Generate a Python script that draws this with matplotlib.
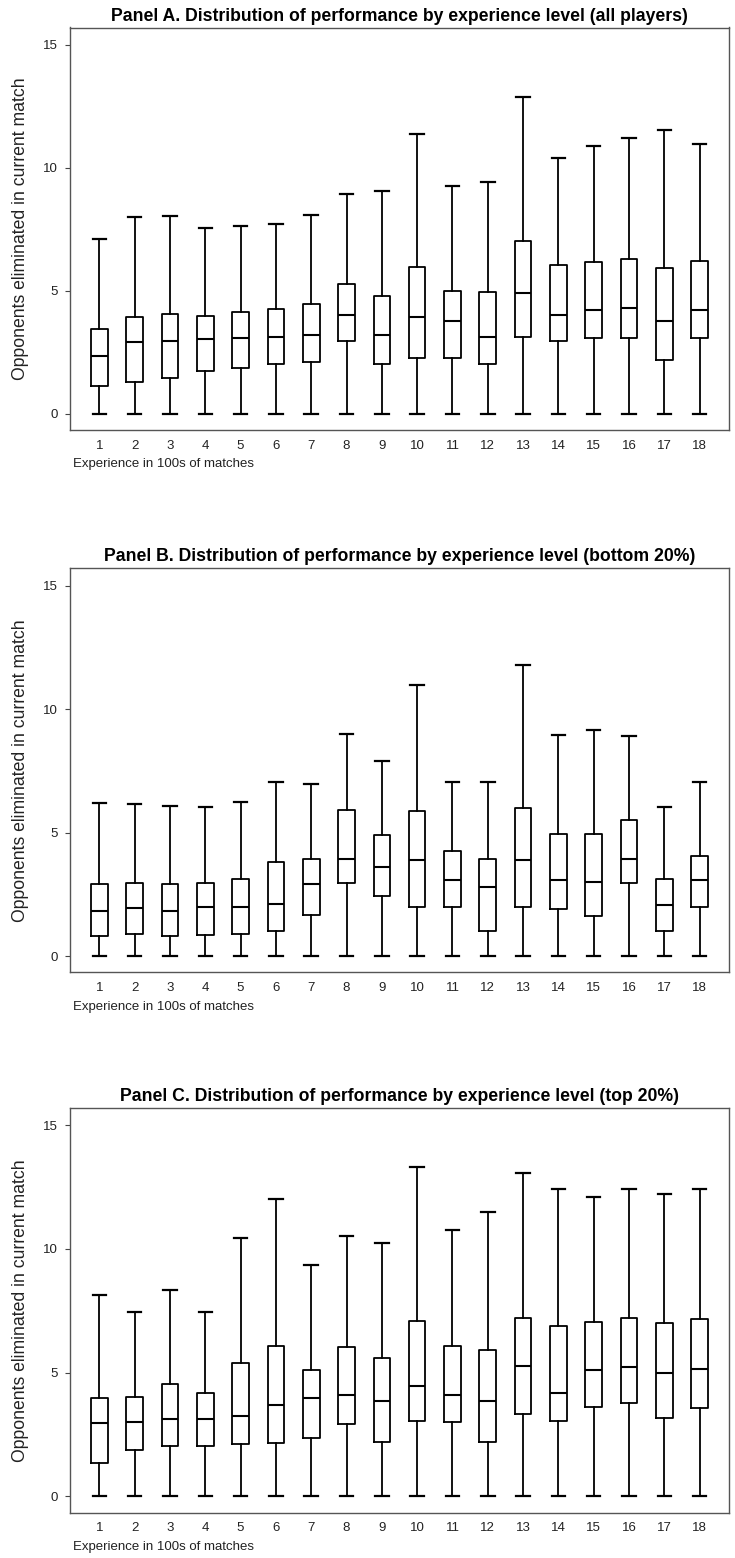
import numpy as np
import matplotlib
matplotlib.use("Agg")
import matplotlib.pyplot as plt

levels = list(range(1, 19))

# panel A: all players
a_lo  = [0]*18
a_q1  = [1.11, 1.28, 1.44, 1.72, 1.87, 2.04, 2.10, 2.96, 2.04, 2.25, 2.25, 2.04, 3.12, 2.96, 3.07, 3.07, 2.20, 3.07]
a_med = [2.36, 2.90, 2.96, 3.03, 3.08, 3.13, 3.19, 4.00, 3.19, 3.95, 3.77, 3.13, 4.90, 4.00, 4.21, 4.31, 3.77, 4.21]
a_q3  = [3.45, 3.95, 4.04, 3.99, 4.15, 4.25, 4.48, 5.28, 4.80, 5.98, 5.01, 4.95, 7.01, 6.04, 6.15, 6.31, 5.93, 6.20]
a_hi  = [7.11, 7.98, 8.03, 7.54, 7.64, 7.71, 8.07, 8.94, 9.04, 11.36, 9.27, 9.43, 12.87, 10.41, 10.90, 11.21, 11.53, 10.98]

# panel B: bottom 20%
b_lo  = [0]*18
b_q1  = [0.79, 0.89, 0.79, 0.84, 0.89, 1.00, 1.65, 2.95, 2.41, 1.98, 1.98, 1.00, 1.98, 1.92, 1.60, 2.95, 1.00, 1.98]
b_med = [1.83, 1.94, 1.83, 1.99, 1.99, 2.10, 2.90, 3.93, 3.60, 3.88, 3.06, 2.79, 3.88, 3.06, 3.01, 3.93, 2.05, 3.06]
b_q3  = [2.90, 2.95, 2.90, 2.95, 3.12, 3.82, 3.93, 5.93, 4.91, 5.88, 4.25, 3.93, 5.98, 4.96, 4.96, 5.50, 3.12, 4.04]
b_hi  = [6.19, 6.14, 6.08, 6.03, 6.25, 7.06, 6.95, 8.98, 7.91, 10.98, 7.06, 7.06, 11.78, 8.94, 9.15, 8.89, 6.03, 7.06]

# panel C: top 20%
c_lo  = [0]*18
c_q1  = [1.34, 1.88, 2.04, 2.04, 2.10, 2.15, 2.37, 2.94, 2.20, 3.06, 3.01, 2.20, 3.33, 3.06, 3.60, 3.76, 3.17, 3.55]
c_med = [2.96, 3.01, 3.12, 3.12, 3.23, 3.71, 3.98, 4.09, 3.87, 4.46, 4.09, 3.87, 5.27, 4.19, 5.11, 5.22, 5.00, 5.16]
c_q3  = [3.98, 4.03, 4.52, 4.19, 5.38, 6.08, 5.11, 6.02, 5.59, 7.10, 6.08, 5.91, 7.20, 6.88, 7.04, 7.20, 6.99, 7.15]
c_hi  = [8.12, 7.46, 8.32, 7.46, 10.44, 12.00, 9.33, 10.50, 10.23, 13.29, 10.77, 11.47, 13.08, 12.43, 12.11, 12.43, 12.22, 12.43]

titles = ["Panel A. Distribution of performance by experience level (all players)",
          "Panel B. Distribution of performance by experience level (bottom 20%)",
          "Panel C. Distribution of performance by experience level (top 20%)"]
panels = [(a_lo, a_q1, a_med, a_q3, a_hi), (b_lo, b_q1, b_med, b_q3, b_hi), (c_lo, c_q1, c_med, c_q3, c_hi)]

fam = ['Liberation Sans', 'DejaVu Sans']
W, H = 735, 1558
fig = plt.figure(figsize=(W/100, H/100), dpi=100)
# frame top/bottom in pixels for each panel
frames = [(27.5, 430), (568.3, 972.3), (1107.7, 1512.7)]
left, right = 70, 729

for (top, bot), title, (lo, q1, med, q3, hi) in zip(frames, titles, panels):
    ax = fig.add_axes([left/W, 1-bot/H, (right-left)/W, (bot-top)/H])
    stats = [dict(whislo=l, q1=a, med=m, q3=b, whishi=h, fliers=[]) for l, a, m, b, h in zip(lo, q1, med, q3, hi)]
    ax.bxp(stats, positions=levels, widths=0.47, capwidths=0.38, showfliers=False,
           boxprops=dict(color='black', lw=1.3), medianprops=dict(color='black', lw=1.5),
           whiskerprops=dict(color='black', lw=1.3), capprops=dict(color='black', lw=1.6))
    ax.set_xlim(0.17, 18.83); ax.set_ylim(-0.66, 15.7)
    ax.set_yticks([0, 5, 10, 15]); ax.set_xticks(levels)
    ax.set_xticklabels([str(v) for v in levels], family=fam, fontsize=9.5, color='#222')
    ax.set_yticklabels(['0', '5', '10', '15'], family=fam, fontsize=9.5, color='#222')
    ax.tick_params(axis='x', length=0, pad=7)
    ax.tick_params(axis='y', length=3.5, width=0.8, color='#444', pad=5)
    for s in ax.spines.values():
        s.set_color('#555'); s.set_linewidth(1.0)
    ax.set_title(title, family=fam, fontweight='bold', fontsize=12.7, pad=5)
    ax.set_ylabel("Opponents eliminated in current match", family=fam, fontsize=12.7, color='#222')
    ax.yaxis.set_label_coords(-0.0744, 0.5)
    ax.yaxis.label.set_va('center')
    ax.text(3/(right-left), -0.085, "Experience in 100s of matches", transform=ax.transAxes,
            family=fam, fontsize=9.5, color='#222', ha='left', va='center')

plt.savefig("out.png", dpi=100)
